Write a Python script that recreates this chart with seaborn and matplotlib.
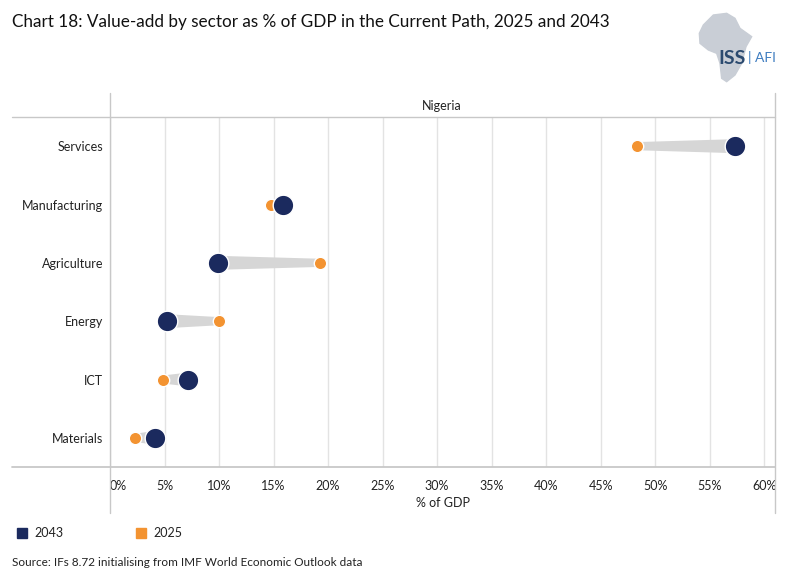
import numpy as np
import pandas as pd
import matplotlib.pyplot as plt
import seaborn as sns
from matplotlib.lines import Line2D
from matplotlib.patches import Rectangle, Polygon

sns.set_style('white')
plt.rcParams['font.family'] = ['Lato', 'DejaVu Sans']

sectors = ['Services', 'Manufacturing', 'Agriculture', 'Energy', 'ICT', 'Materials']
val_2025 = [48.3, 14.8, 19.3, 10.0, 4.9, 2.3]
val_2043 = [57.3, 15.9, 9.9, 5.2, 7.2, 4.1]
ticks = list(range(0, 65, 5))
tick_labels = [f'{t}%' for t in ticks]

NAVY = '#1b2a5e'
ORANGE = '#f39331'

df = pd.DataFrame({'sector': sectors * 2,
                   'year': ['2043'] * 6 + ['2025'] * 6,
                   'value': val_2043 + val_2025})
df['pos'] = df['sector'].map({s: i for i, s in enumerate(sectors)})

W, H = 786, 588
fig = plt.figure(figsize=(W / 100, H / 100), dpi=100)
ax = fig.add_axes([110 / W, 1 - 467 / H, 665 / W, 350 / H])

# tapered grey band between the two years
for i, s in enumerate(sectors):
    a, b = val_2025[i], val_2043[i]
    ax.fill([a, b, b, a], [i - 0.07, i - 0.12, i + 0.12, i + 0.07],
            color='#d6d6d6', lw=0, zorder=2)

sns.scatterplot(data=df[df.year == '2025'], x='value', y='pos', color=ORANGE,
                s=80, edgecolor='white', linewidth=1, ax=ax, zorder=3, legend=False)
sns.scatterplot(data=df[df.year == '2043'], x='value', y='pos', color=NAVY,
                s=220, edgecolor='white', linewidth=1, ax=ax, zorder=4, legend=False)

ax.set_xlim(0, 61)
ax.set_ylim(5.5, -0.5)
ax.set_xticks(ticks)
ax.set_xticklabels(tick_labels, fontsize=9, color='#222222')
ax.get_xticklabels()[0].set_horizontalalignment('left')
ax.set_yticks(range(len(sectors)))
ax.set_yticklabels(sectors, fontsize=9, color='#222222')
ax.tick_params(axis='y', length=0, pad=5)
ax.tick_params(axis='x', length=0, pad=9)
ax.set_xlabel('% of GDP', fontsize=9, labelpad=4, color='#222222')
ax.set_ylabel('')
ax.grid(axis='x', color='#e3e3e3', lw=1)
for sp in ax.spines.values():
    sp.set_visible(False)

# frame lines like the original panel
gray = '#c8c8c8'
fig.add_artist(Line2D([12 / W, 775 / W], [1 - 117 / H] * 2, color=gray, lw=1))
fig.add_artist(Line2D([12 / W, 775 / W], [1 - 467 / H] * 2, color=gray, lw=1.3))
fig.add_artist(Line2D([110 / W] * 2, [1 - 93 / H, 1 - 513 / H], color=gray, lw=1))
fig.add_artist(Line2D([775 / W] * 2, [1 - 93 / H, 1 - 513 / H], color=gray, lw=1))
fig.text(442 / W, 1 - 106 / H, 'Nigeria', ha='center', va='center', fontsize=9, color='#222222')

fig.text(12 / W, 1 - 22 / H,
         'Chart 18: Value-add by sector as % of GDP in the Current Path, 2025 and 2043',
         ha='left', va='center', fontsize=12.3, color='#111111')

# logo: rough map outline plus text
outline = [(130, 75), (160, 45), (200, 40), (225, 55), (240, 85), (275, 110), (258, 140),
           (245, 190), (225, 225), (200, 245), (185, 235), (180, 190), (170, 160),
           (145, 150), (120, 130), (118, 100)]
pts = [((660 + px / 3) / W, 1 - (py / 3) / H) for px, py in outline]
fig.add_artist(Polygon(pts, closed=True, color='#c9ced6', transform=fig.transFigure, zorder=0))
fig.text(746 / W, 1 - 58 / H, 'ISS', ha='right', va='center', fontsize=14,
         color='#2b4a6f', fontweight='bold')
fig.text(748 / W, 1 - 58 / H, '| AFI', ha='left', va='center', fontsize=10, color='#3d7cc0')

# legend
fig.add_artist(Rectangle((17 / W, 1 - 538 / H), 10 / W, 10 / H, color=NAVY,
                         transform=fig.transFigure))
fig.text(34 / W, 1 - 533 / H, '2043', ha='left', va='center', fontsize=9, color='#222222')
fig.add_artist(Rectangle((136 / W, 1 - 538 / H), 10 / W, 10 / H, color=ORANGE,
                         transform=fig.transFigure))
fig.text(153 / W, 1 - 533 / H, '2025', ha='left', va='center', fontsize=9, color='#222222')

fig.text(12 / W, 1 - 563 / H, 'Source: IFs 8.72 initialising from IMF World Economic Outlook data',
         ha='left', va='center', fontsize=8.5, color='#222222')

fig.savefig('out.png', dpi=100)
